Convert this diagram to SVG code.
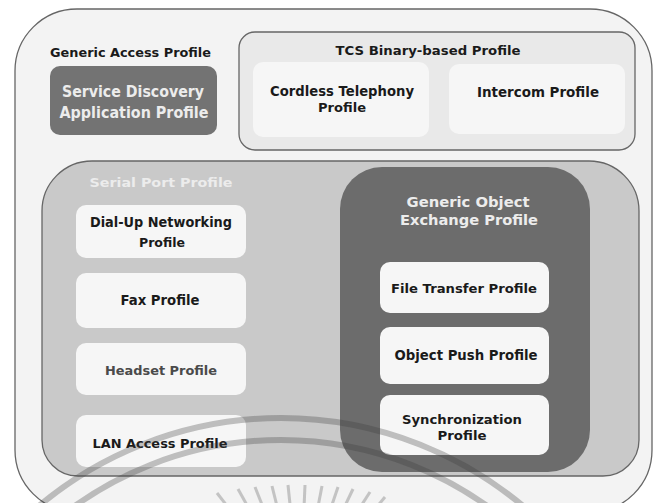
<svg xmlns="http://www.w3.org/2000/svg" width="654" height="503" viewBox="0 0 654 503">
  <style>
    .t { font-family: "DejaVu Sans", "Liberation Sans", sans-serif; font-weight: bold; text-anchor: middle; fill: #1a1a1a; }
    .tl { text-anchor: start; }
    .light { fill: #ececec; }
    .soft { fill: #4a4a4a; }
    .box { fill: #f6f6f6; }
    .panel { stroke: #666; stroke-width: 1.3; }
    .band { fill: none; stroke: #3c3c3c; stroke-opacity: 0.3; stroke-width: 6; }
    .ray { stroke: #9a9a9a; stroke-opacity: 0.55; stroke-width: 3; stroke-linecap: butt; }
  </style>

  <rect width="654" height="503" fill="#ffffff"/>

  <!-- Generic Access Profile: outer frame -->
  <g id="gap">
    <rect x="15" y="9" width="637" height="503" rx="62" fill="#f3f3f3" class="panel" stroke-width="1.6"/>
    <text class="t tl" x="50" y="57" font-size="13" textLength="161" lengthAdjust="spacingAndGlyphs">Generic Access Profile</text>
  </g>

  <!-- Service Discovery Application Profile -->
  <g id="sdap">
    <rect x="50" y="66" width="167" height="69" rx="10" fill="#737373"/>
    <text class="t light" x="133" y="97" font-size="15" textLength="142" lengthAdjust="spacingAndGlyphs">Service Discovery</text>
    <text class="t light" x="134" y="118" font-size="15" textLength="149" lengthAdjust="spacingAndGlyphs">Application Profile</text>
  </g>

  <!-- TCS Binary-based Profile -->
  <g id="tcs">
    <rect x="239" y="32" width="396" height="118" rx="16" fill="#e9e9e9" class="panel" stroke-width="1.5"/>
    <text class="t" x="428" y="55" font-size="13" textLength="185" lengthAdjust="spacingAndGlyphs">TCS Binary-based Profile</text>
  </g>
  <g id="cordless">
    <rect x="253" y="62" width="176" height="75" rx="10" class="box"/>
    <text class="t" x="342" y="96" font-size="14" textLength="144" lengthAdjust="spacingAndGlyphs">Cordless Telephony</text>
    <text class="t" x="342" y="112" font-size="12" textLength="48" lengthAdjust="spacingAndGlyphs">Profile</text>
  </g>
  <g id="intercom">
    <rect x="449" y="64" width="176" height="70" rx="10" class="box"/>
    <text class="t" x="538" y="97" font-size="14" textLength="122" lengthAdjust="spacingAndGlyphs">Intercom Profile</text>
  </g>

  <!-- Serial Port Profile panel -->
  <g id="spp">
    <path d="M92,161 H589 A50,50 0 0 1 639,211 V440 A36,36 0 0 1 603,476 H78 A36,36 0 0 1 42,440 V211 A50,50 0 0 1 92,161 Z" fill="#c9c9c9" class="panel"/>
    <text class="t light" x="161" y="187" font-size="13" textLength="143" lengthAdjust="spacingAndGlyphs">Serial Port Profile</text>
  </g>
  <g id="dun">
    <rect x="76" y="205" width="170" height="53" rx="10" class="box"/>
    <text class="t" x="161" y="227" font-size="13.5" textLength="142" lengthAdjust="spacingAndGlyphs">Dial-Up Networking</text>
    <text class="t" x="162" y="247" font-size="12" textLength="46" lengthAdjust="spacingAndGlyphs">Profile</text>
  </g>
  <g id="fax">
    <rect x="76" y="273" width="170" height="55" rx="10" class="box"/>
    <text class="t" x="160" y="305" font-size="13.5" textLength="79" lengthAdjust="spacingAndGlyphs">Fax Profile</text>
  </g>
  <g id="headset">
    <rect x="76" y="343" width="170" height="52" rx="10" class="box"/>
    <text class="t soft" x="161" y="375" font-size="12.5" textLength="112" lengthAdjust="spacingAndGlyphs">Headset Profile</text>
  </g>
  <g id="lan">
    <rect x="76" y="415" width="170" height="52" rx="10" class="box"/>
    <text class="t" x="160" y="448" font-size="13" textLength="135" lengthAdjust="spacingAndGlyphs">LAN Access Profile</text>
  </g>

  <!-- Generic Object Exchange Profile panel -->
  <g id="goep">
    <rect x="340" y="167" width="250" height="305" rx="42" fill="#6c6c6c"/>
    <text class="t light" x="468" y="207" font-size="14" textLength="123" lengthAdjust="spacingAndGlyphs">Generic Object</text>
    <text class="t light" x="469" y="225" font-size="14" textLength="138" lengthAdjust="spacingAndGlyphs">Exchange Profile</text>
  </g>
  <g id="ftp">
    <rect x="380" y="262" width="169" height="51" rx="10" class="box"/>
    <text class="t" x="464" y="293" font-size="12.5" textLength="146" lengthAdjust="spacingAndGlyphs">File Transfer Profile</text>
  </g>
  <g id="opp">
    <rect x="380" y="327" width="169" height="57" rx="10" class="box"/>
    <text class="t" x="466" y="360" font-size="13.5" textLength="143" lengthAdjust="spacingAndGlyphs">Object Push Profile</text>
  </g>
  <g id="sync">
    <rect x="380" y="395" width="169" height="60" rx="10" class="box"/>
    <text class="t" x="462" y="424" font-size="12.5" textLength="120" lengthAdjust="spacingAndGlyphs">Synchronization</text>
    <text class="t" x="462" y="440" font-size="12.5" textLength="49" lengthAdjust="spacingAndGlyphs">Profile</text>
  </g>

  <!-- seal stamp printed over the lower part -->
  <g id="stamp">
    <circle cx="281" cy="795" r="377" class="band"/>
    <circle cx="281" cy="795" r="355" class="band"/>
    <line class="ray" x1="217" y1="493" x2="235.4" y2="516.7"/>
    <line class="ray" x1="238" y1="489" x2="252.6" y2="515.2"/>
    <line class="ray" x1="255" y1="487" x2="266.1" y2="514.9"/>
    <line class="ray" x1="272" y1="486" x2="279.2" y2="515.1"/>
    <line class="ray" x1="288" y1="485" x2="291.1" y2="514.8"/>
    <line class="ray" x1="305" y1="485" x2="303.7" y2="515"/>
    <line class="ray" x1="322" y1="486" x2="316.3" y2="515.5"/>
    <line class="ray" x1="338" y1="487" x2="328.4" y2="515.4"/>
    <line class="ray" x1="353" y1="489" x2="340.1" y2="516.1"/>
    <line class="ray" x1="370" y1="492" x2="353.7" y2="517.2"/>
    <line class="ray" x1="385" y1="497" x2="365.9" y2="520.1"/>
  </g>
</svg>
